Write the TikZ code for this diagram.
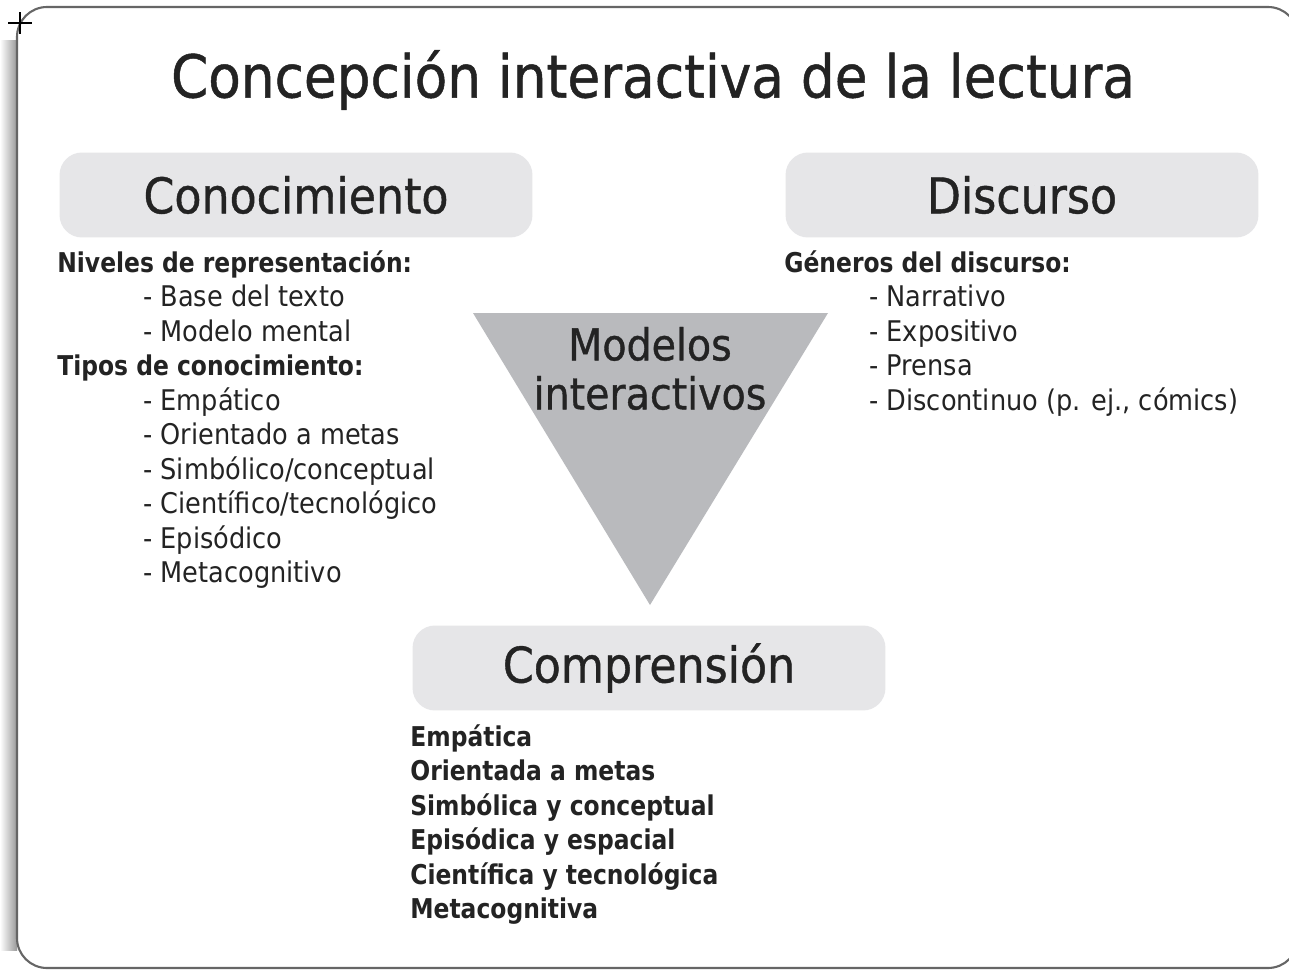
\documentclass[tikz,border=0pt]{standalone}
\usepackage{fontspec}
\setmainfont{DejaVu Sans}[FakeStretch=0.9, BoldFont={DejaVu Sans Bold}, BoldFeatures={FakeStretch=0.86}]
\newfontfamily\gruesa{DejaVu Sans}[FakeStretch=0.9, FakeBold=0.8]
\definecolor{cajagris}{HTML}{E6E6E8}
\definecolor{trigris}{HTML}{B9BABD}
\definecolor{tinta}{HTML}{232323}
\tikzset{
  caja/.style={fill=cajagris, rounded corners=0.45cm, minimum width=9.46cm, minimum height=1.7cm, font=\gruesa\fontsize{28}{34}\selectfont},
  linea/.style={anchor=base west, inner sep=0pt, font=\fontsize{16.2}{19}\selectfont},
  rotulo/.style={linea, font=\fontsize{15.5}{19}\selectfont\bfseries}
}
\begin{document}
\begin{tikzpicture}[x=0.02cm, y=-0.02cm, every node/.append style={text=tinta}]
  \useasboundingbox (0,0) rectangle (1289,970);
  % marco
  \shade[left color=white, right color=gray!80] (0,40) rectangle (17,950);
  \draw[gray!80!black, line width=1.2pt, fill=white, rounded corners=0.6cm] (17,7) rectangle (1298,968);
  \draw[black, line width=0.6pt] (8,23) -- (32,23) (20,12) -- (20,34);
  % titulo
  \node (titulo) at (653,80) {\gruesa\fontsize{33.7}{40}\selectfont Concepción interactiva de la lectura};
  % cajas
  \node[caja] (conoc) at (296,195) {Conocimiento};
  \node[caja] (disc) at (1022,195) {Discurso};
  \node[caja] (compr) at (649,668) {Comprensión};
  % triangulo
  \fill[trigris] (473,313) -- (828,313) -- (650,605) -- cycle;
  \node[font=\gruesa\fontsize{25}{30}\selectfont] (mod1) at (650,344) {Modelos};
  \node[font=\gruesa\fontsize{25}{30}\selectfont] (mod2) at (650,393) {interactivos};
  % conocimiento
  \node[rotulo] (niv) at (57,272) {Niveles de representación:};
  \node[linea] (niv1) at (143,306.5) {- Base del texto};
  \node[linea] (niv2) at (143,341) {- Modelo mental};
  \node[rotulo] (tip) at (57,375.5) {Tipos de conocimiento:};
  \foreach \t [count=\i] in {Empático, Orientado a metas, Simbólico/conceptual, Científico/tecnológico, Episódico, Metacognitivo}
    \node[linea] (tip\i) at (143,375.5+34.5*\i) {- \t};
  % discurso
  \node[rotulo] (gen) at (784,272) {Géneros del discurso:};
  \foreach \t [count=\i] in {Narrativo, Expositivo, Prensa, {Discontinuo (p. ej., cómics)}}
    \node[linea] (gen\i) at (869,272+34.5*\i) {- \t};
  % comprension
  \foreach \t [count=\i] in {Empática, Orientada a metas, Simbólica y conceptual, Episódica y espacial, Científica y tecnológica, Metacognitiva}
    \node[rotulo] (com\i) at (410,711.5+34.5*\i) {\t};
\end{tikzpicture}
\end{document}
